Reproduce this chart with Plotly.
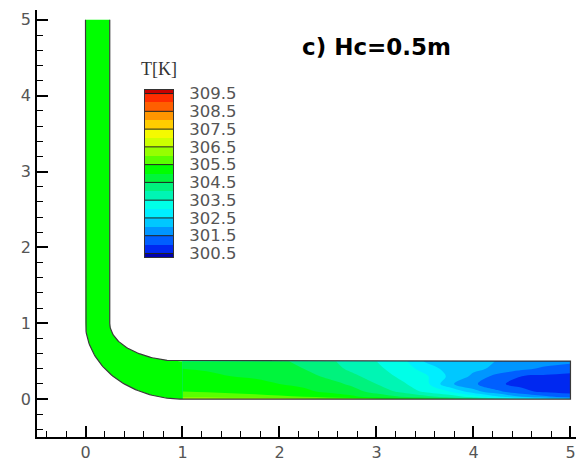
import numpy as np
import plotly.graph_objects as go

# ---- temperature bands (K) and their fill colours ----
band_levels = [300.0, 300.5, 301.0, 301.5, 302.0, 302.5, 303.0, 303.5, 304.0, 304.5,
               305.0, 305.5, 306.0, 306.5, 307.0, 307.5, 308.0, 308.5, 309.0, 309.5, 310.0]
band_colors = [
    "rgb(0,0,175)", "rgb(0,40,240)", "rgb(0,95,255)", "rgb(0,150,255)", "rgb(0,200,255)",
    "rgb(0,238,255)", "rgb(0,255,232)", "rgb(0,245,180)", "rgb(0,242,125)", "rgb(0,245,60)",
    "rgb(0,255,0)", "rgb(90,255,0)", "rgb(150,255,0)", "rgb(205,255,0)", "rgb(245,250,0)",
    "rgb(255,205,0)", "rgb(255,150,0)", "rgb(255,95,0)", "rgb(255,45,0)", "rgb(200,0,0)",
]
legend_ticks = [300.5, 301.5, 302.5, 303.5, 304.5, 305.5, 306.5, 307.5, 308.5, 309.5]
legend_labels = ["300.5", "301.5", "302.5", "303.5", "304.5",
                 "305.5", "306.5", "307.5", "308.5", "309.5"]

# ---- temperature field in the horizontal channel ----
chan_x = [1.0, 1.25, 1.5, 1.75, 2.0, 2.25, 2.5, 2.75, 3.0, 3.25, 3.5, 3.75, 4.0, 4.25, 4.5, 4.75, 5.0]
chan_y = [0.0, 0.03, 0.1, 0.2, 0.3, 0.4, 0.5]
chan_T = [
    [306.6, 306.6, 306.5, 306.4, 306.3, 306.2, 306.0, 305.8, 305.6, 305.4, 305.2, 305.0, 304.6, 304.0, 303.4, 302.8, 302.3],
    [305.8, 305.8, 305.7, 305.7, 305.6, 305.5, 305.3, 305.1, 304.8, 304.5, 304.2, 303.8, 303.3, 302.6, 302.0, 301.6, 301.3],
    [305.5, 305.45, 305.4, 305.3, 305.2, 305.1, 304.9, 304.7, 304.3, 303.9, 303.4, 303.0, 302.2, 301.6, 301.1, 300.9, 300.8],
    [305.3, 305.25, 305.2, 305.1, 305.0, 304.9, 304.7, 304.4, 304.0, 303.6, 303.2, 302.1, 301.6, 301.05, 300.9, 300.75, 300.7],
    [305.2, 305.1, 305.0, 304.95, 304.85, 304.7, 304.4, 304.1, 303.8, 303.4, 303.1, 302.4, 301.9, 301.3, 301.0, 300.9, 300.8],
    [305.0, 304.95, 304.9, 304.8, 304.7, 304.5, 304.2, 303.9, 303.6, 303.3, 302.8, 302.3, 302.1, 301.9, 301.6, 301.4, 301.3],
    [304.9, 304.85, 304.8, 304.75, 304.6, 304.35, 304.1, 303.8, 303.5, 303.2, 302.45, 302.3, 302.15, 301.98, 301.8, 301.7, 301.6],
]
# riser and elbow are at a nearly uniform temperature
riser_T = 305.2

# ---- pipe geometry (m) ----
riser_w = 0.25
riser_top = 5.0
chan_h = 0.5
chan_end = 5.0
bend_r = 1.0

t_min, t_max = band_levels[0], band_levels[-1]
n_bands = len(band_colors)

# stepped colour scale: one flat segment per band
colorscale = []
for k, c in enumerate(band_colors):
    colorscale.append([k / n_bands, c])
    colorscale.append([(k + 1) / n_bands, c])


def band_color(value):
    for k in range(n_bands):
        if band_levels[k] <= value < band_levels[k + 1]:
            return band_colors[k]
    return band_colors[-1]


# elbow arcs around the corner point (bend_r, bend_r)
theta = np.linspace(np.pi, 1.5 * np.pi, 60)
outer_x = bend_r + bend_r * np.cos(theta)
outer_y = bend_r + bend_r * np.sin(theta)
inner_x = bend_r + (bend_r - riser_w) * np.cos(theta)
inner_y = bend_r + (bend_r - chan_h) * np.sin(theta)

# riser + elbow as one filled region
fill_x = [0.0, riser_w] + list(inner_x) + [bend_r, bend_r] + list(outer_x[::-1]) + [0.0]
fill_y = [riser_top, riser_top] + list(inner_y) + [chan_h, 0.0] + list(outer_y[::-1]) + [riser_top]

# wall outline (open at the riser inlet)
wall_x = [0.0] + list(outer_x) + [chan_end, chan_end, bend_r] + list(inner_x[::-1]) + [riser_w]
wall_y = [riser_top] + list(outer_y) + [0.0, chan_h, chan_h] + list(inner_y[::-1]) + [riser_top]

fig = go.Figure()

fig.add_trace(go.Contour(
    x=chan_x, y=chan_y, z=chan_T,
    colorscale=colorscale, zmin=t_min, zmax=t_max,
    autocontour=False,
    contours=dict(start=t_min, end=t_max, size=0.5, coloring="fill", showlines=False),
    line=dict(width=0), showscale=False, hoverinfo="skip",
))

fig.add_trace(go.Scatter(
    x=fill_x, y=fill_y, mode="lines", fill="toself",
    fillcolor=band_color(riser_T), line=dict(width=0, color=band_color(riser_T)),
    hoverinfo="skip", showlegend=False,
))

fig.add_trace(go.Scatter(
    x=wall_x, y=wall_y, mode="lines",
    line=dict(color="#3a3a3a", width=1.2),
    hoverinfo="skip", showlegend=False,
))

# ---- colour legend drawn on its own small axes ----
band_mids = [(band_levels[k] + band_levels[k + 1]) / 2 for k in range(n_bands)]
fig.add_trace(go.Heatmap(
    x=[0.5], y=band_mids, z=[[m] for m in band_mids],
    colorscale=colorscale, zmin=t_min, zmax=t_max, showscale=False,
    xaxis="x2", yaxis="y2", hoverinfo="skip",
))
sep_x, sep_y = [], []
for v in legend_ticks:
    sep_x += [0, 1, None]
    sep_y += [v, v, None]
fig.add_trace(go.Scatter(
    x=sep_x, y=sep_y, mode="lines", line=dict(color="#222222", width=1),
    xaxis="x2", yaxis="y2", hoverinfo="skip", showlegend=False,
))

tick_font = dict(family="DejaVu Sans", size=16, color="#555555")
axis_common = dict(
    showgrid=False, zeroline=False, showline=True, linecolor="black", linewidth=1.5,
    ticks="inside", ticklen=11, tickwidth=1.5, tickcolor="black",
    tickmode="linear", tick0=0, dtick=1, tickfont=tick_font, automargin=False,
    minor=dict(ticks="inside", ticklen=6, tickwidth=1, tickcolor="black", dtick=0.2, tick0=0),
)

fig.update_layout(
    width=578, height=462,
    margin=dict(l=37, r=2, t=10, b=25),
    paper_bgcolor="white", plot_bgcolor="white",
    showlegend=False,
    xaxis=dict(range=[-0.5, 5.057], ticklabelstandoff=0, **axis_common),
    yaxis=dict(range=[-0.5, 5.13], ticklabelstandoff=1, **axis_common),
    xaxis2=dict(domain=[0.2004, 0.2523], anchor="y2", range=[0, 1], automargin=False,
                showgrid=False, zeroline=False, showticklabels=False, ticks="",
                showline=True, mirror=True, linecolor="#333333", linewidth=1),
    yaxis2=dict(domain=[0.4215, 0.8126], anchor="x2", range=[300.3, 309.7], side="right",
                showgrid=False, zeroline=False, ticks="", showline=True, mirror=True,
                linecolor="#333333", linewidth=1, automargin=False,
                tickmode="array", tickvals=legend_ticks, ticktext=legend_labels,
                ticklabelstandoff=12,
                tickfont=dict(family="DejaVu Sans", size=16.5, color="#555555")),
    annotations=[
        dict(text="<b>c) Hc=0.5m</b>", xref="paper", yref="paper", x=0.629, y=0.913,
             xanchor="center", yanchor="middle", showarrow=False,
             font=dict(family="DejaVu Sans", size=23, color="black")),
        dict(text="T[K]", xref="x2 domain", yref="y2 domain", x=0.5, y=1,
             xanchor="center", yanchor="bottom", yshift=9, showarrow=False,
             font=dict(family="Liberation Serif", size=18, color="#333333")),
    ],
)

fig.write_html("out.html")
